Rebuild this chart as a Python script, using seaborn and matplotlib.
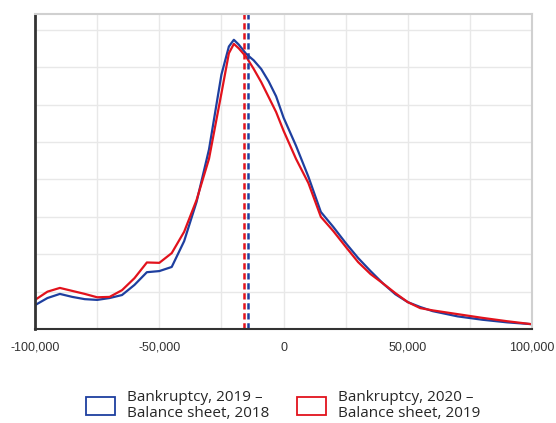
import seaborn as sns
import matplotlib.pyplot as plt
import pandas as pd
from matplotlib.patches import Patch

# values (x in thousands, density in grid units)
x_k = [-100, -95, -90, -85, -80, -75, -70, -65, -60, -55, -50, -45, -40, -35,
       -30, -25, -22, -20, -18, -15, -12, -9, -6, -3, 0, 5, 10, 15, 20, 25,
       30, 35, 40, 45, 50, 55, 60, 70, 80, 90, 100]
blue_y = [0.64, 0.83, 0.94, 0.86, 0.80, 0.78, 0.83, 0.91, 1.18, 1.52, 1.55, 1.66, 2.35, 3.40,
          4.80, 6.80, 7.55, 7.73, 7.60, 7.35, 7.18, 6.95, 6.62, 6.22, 5.65, 4.90, 4.07, 3.13, 2.73, 2.30,
          1.90, 1.55, 1.22, 0.93, 0.72, 0.59, 0.48, 0.34, 0.25, 0.18, 0.13]
red_y = [0.78, 1.00, 1.10, 1.02, 0.94, 0.85, 0.86, 1.04, 1.36, 1.78, 1.77, 2.03, 2.60, 3.45,
         4.55, 6.30, 7.37, 7.62, 7.50, 7.27, 6.95, 6.60, 6.20, 5.80, 5.30, 4.55, 3.90, 3.00, 2.62, 2.20,
         1.79, 1.47, 1.22, 0.96, 0.72, 0.56, 0.50, 0.40, 0.30, 0.21, 0.13]
medians = {"2019": -14300, "2020": -15900}
labels = ["Bankruptcy, 2019 \u2013\nBalance sheet, 2018",
          "Bankruptcy, 2020 \u2013\nBalance sheet, 2019"]
xticks = [-100000, -50000, 0, 50000, 100000]

blue = "#1e3f9f"
red = "#e2121c"

df = pd.concat([
    pd.DataFrame({"x": [v * 1000 for v in x_k], "y": blue_y, "series": labels[0]}),
    pd.DataFrame({"x": [v * 1000 for v in x_k], "y": red_y, "series": labels[1]}),
])

sns.set_style("white")
plt.rcParams['font.family'] = ['Liberation Sans', 'DejaVu Sans']

fig = plt.figure(figsize=(5.56, 4.23), dpi=100)
ax = fig.add_axes([0.063, 0.222, 0.894, 0.745])

sns.lineplot(data=df, x="x", y="y", hue="series", palette=[blue, red],
             linewidth=1.6, legend=False, ax=ax, sort=False)
ax.axvline(medians["2020"], color=red, linestyle=(0, (2.5, 1.5)), linewidth=1.8)
ax.axvline(medians["2019"], color=blue, linestyle=(0, (2.5, 1.5)), linewidth=1.8)

ax.set_xlim(-100000, 100000)
ax.set_ylim(0, 8.42)
ax.set_xticks(range(-100000, 100001, 25000))
ax.set_xticklabels(["{:,}".format(t) if t in xticks else "" for t in range(-100000, 100001, 25000)])
ax.set_yticks(range(0, 9))
ax.set_yticklabels([])
ax.tick_params(axis="both", length=0, labelsize=9, labelcolor="#333333")
ax.tick_params(axis="x", pad=9)
ax.grid(True, color="#e8e8e8", linewidth=1)
ax.set_xlabel("")
ax.set_ylabel("")

ax.spines["left"].set_color("#333333")
ax.spines["left"].set_linewidth(2)
ax.spines["bottom"].set_color("#333333")
ax.spines["bottom"].set_linewidth(1.5)
for s in ["top", "right"]:
    ax.spines[s].set_color("#d0d0d0")
    ax.spines[s].set_linewidth(1.5)

handles = [Patch(facecolor="white", edgecolor=blue, linewidth=1.3),
           Patch(facecolor="white", edgecolor=red, linewidth=1.3)]
leg = fig.legend(handles, labels, loc="center", bbox_to_anchor=(0.51, 0.042), ncol=2,
                 frameon=False, prop={"family": "Open Sans", "size": 11},
                 handlelength=1.85, handleheight=1.45, handletextpad=0.85,
                 columnspacing=1.8)
for t in leg.get_texts():
    t.set_linespacing(1.05)

plt.savefig("out.png", dpi=100)
